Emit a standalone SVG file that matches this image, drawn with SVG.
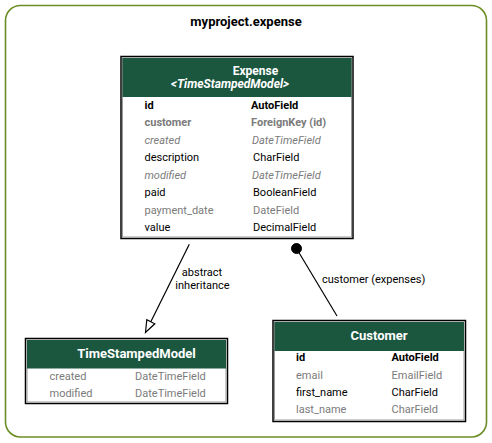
<svg xmlns="http://www.w3.org/2000/svg" width="492" height="443" viewBox="0 0 492 443">
<style>
text{font-family:Roboto,"Liberation Sans",Arial,sans-serif;}
.title{font-size:13px;font-weight:bold;fill:#000;text-anchor:middle;}
.hdr{font-size:13px;font-weight:bold;fill:#fff;text-anchor:middle;}
.hdr2{font-size:12px;}
.f{font-size:11px;fill:#000;}
.g{fill:#7b7b7b;}
.b{font-weight:bold;}
.i{font-style:italic;}
.lbl{font-size:11px;fill:#000;}
.outer{fill:#fff;stroke:#000;stroke-width:1.5;}
.inner{fill:none;stroke:#9a9a9a;stroke-width:1;}
.head{fill:#1b563f;}
.edge{stroke:#000;stroke-width:1.2;fill:none;}
</style>
<rect x="5.5" y="5.5" width="481" height="431.5" rx="15" ry="15" fill="#fff" stroke="#6b8e23" stroke-width="1.6"/>
<text class="title" x="246" y="25.5">myproject.expense</text>

<g id="connectors">
  <g id="edge-inheritance">
    <line class="edge" x1="189.3" y1="244.3" x2="150.8" y2="321.8"/>
    <polygon points="145.5,332.5 146.8,319.8 154.8,323.8" fill="#fff" stroke="#000" stroke-width="1.2"/>
    <text class="lbl" x="202" y="275.5" text-anchor="middle">abstract</text>
    <text class="lbl" x="202.5" y="289" text-anchor="middle">inheritance</text>
  </g>
  <g id="edge-customer">
    <line class="edge" x1="296.5" y1="248.5" x2="337" y2="316"/>
    <circle cx="296.5" cy="248.5" r="5" fill="#000" stroke="#000"/>
    <text class="lbl" x="322" y="283">customer (expenses)</text>
  </g>
</g>

<g id="node-Expense">
  <rect class="outer" x="121" y="56.5" width="232" height="182"/>
  <rect class="inner" x="122.5" y="58" width="229" height="179"/>
  <rect class="head" x="122.5" y="58" width="229" height="39"/>
  <text class="hdr hdr2" x="255.5" y="74.5">Expense</text>
  <text class="hdr hdr2 i" x="230" y="88">&lt;TimeStampedModel&gt;</text>
  <text class="f b" x="144.5" y="108.5">id</text><text class="f b" x="251" y="108.5">AutoField</text>
  <text class="f b g" x="144.5" y="126">customer</text><text class="f b g" x="251" y="126">ForeignKey (id)</text>
  <text class="f i g" x="144.5" y="143.5">created</text><text class="f i g" x="252" y="143.5">DateTimeField</text>
  <text class="f" x="144.5" y="161">description</text><text class="f" x="253" y="161">CharField</text>
  <text class="f i g" x="144.5" y="178.5">modified</text><text class="f i g" x="252" y="178.5">DateTimeField</text>
  <text class="f" x="144.5" y="196">paid</text><text class="f" x="253" y="196">BooleanField</text>
  <text class="f g" x="144.5" y="213.5">payment_date</text><text class="f g" x="253" y="213.5">DateField</text>
  <text class="f" x="144.5" y="231">value</text><text class="f" x="253" y="231">DecimalField</text>
</g>

<g id="node-TimeStampedModel">
  <rect class="outer" x="25.5" y="338.5" width="202" height="65"/>
  <rect class="inner" x="27" y="340" width="199" height="62"/>
  <rect class="head" x="27" y="340" width="199" height="28.5"/>
  <text class="hdr" x="136.5" y="358">TimeStampedModel</text>
  <text class="f g" x="49.5" y="379.5">created</text><text class="f g" x="135" y="379.5">DateTimeField</text>
  <text class="f g" x="49.5" y="396.5">modified</text><text class="f g" x="135" y="396.5">DateTimeField</text>
</g>

<g id="node-Customer">
  <rect class="outer" x="273" y="320.5" width="192.5" height="101"/>
  <rect class="inner" x="274.5" y="322" width="189.5" height="98"/>
  <rect class="head" x="274.5" y="322" width="189.5" height="29"/>
  <text class="hdr" x="379" y="340">Customer</text>
  <text class="f b" x="296" y="361">id</text><text class="f b" x="391.5" y="361">AutoField</text>
  <text class="f g" x="296" y="379">email</text><text class="f g" x="391.5" y="379">EmailField</text>
  <text class="f" x="296" y="396">first_name</text><text class="f" x="391.5" y="396">CharField</text>
  <text class="f g" x="296" y="413">last_name</text><text class="f g" x="391.5" y="413">CharField</text>
</g>
</svg>
